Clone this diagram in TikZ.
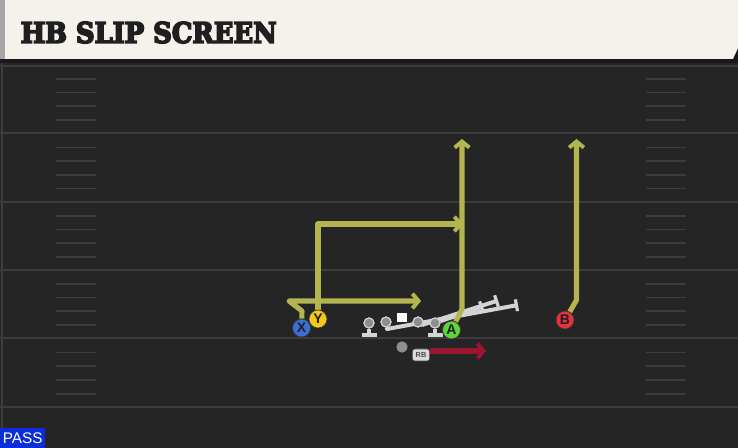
\documentclass[tikz,border=0pt]{standalone}
\usepackage{fontspec}
\usepackage{graphicx}
\usetikzlibrary{arrows.meta}
\newfontfamily\titlefont[FakeBold=6]{DejaVu Serif}
\newfontfamily\labelfont{Liberation Sans}
\definecolor{bg}{HTML}{252525}
\definecolor{yardline}{HTML}{3C3C3C}
\definecolor{cream}{HTML}{F5F2EB}
\definecolor{routecol}{HTML}{B4B450}
\definecolor{rbred}{HTML}{9A1530}
\definecolor{xblue}{HTML}{3B6FD6}
\definecolor{yyellow}{HTML}{F2C81C}
\definecolor{agreen}{HTML}{5CD43A}
\definecolor{bred}{HTML}{E5323E}
\definecolor{olgray}{HTML}{D4D4D4}
\definecolor{dotgray}{HTML}{8E8E8E}
\definecolor{passblue}{HTML}{0B2DDA}
\tikzset{
  yard/.style={draw=yardline, line width=1.5pt},
  hashmark/.style={draw=yardline, line width=1.2pt},
  player/.style={circle, draw=black!80, line width=0.5pt, inner sep=0pt, minimum size=13.5pt,
    font=\labelfont\bfseries\fontsize{10.5}{10.5}\selectfont, text=black!88},
  route/.style={draw=routecol, line width=3.8pt, line join=round, -{Straight Barb[length=4.5pt,width=11pt,line width=3pt]}},
  rbroute/.style={draw=rbred, line width=3.8pt, -{Straight Barb[length=4.5pt,width=11pt,line width=3pt]}},
  block/.style={draw=olgray, line width=3pt, line join=round, -{Bar[width=9pt,line width=2.4pt]}},
  oldot/.style={circle, fill=dotgray, draw=olgray, line width=0.8pt, inner sep=0pt, minimum size=7.5pt},
  olstem/.style={draw=olgray, line width=3pt},
  centerbox/.style={fill=white, inner sep=0pt, minimum size=7pt},
}
\begin{document}
\begin{tikzpicture}[x=0.75pt, y=-0.75pt]
\useasboundingbox (0,0) rectangle (738,448);
\fill[bg] (0,0) rectangle (738,448);
% sideline
\draw[yardline, line width=1.5pt] (2,63) -- (2,448);
% yard lines
\foreach \yy in {66,133.5,202,270,338.5,407}
  \draw[yard] (0,\yy) -- (738,\yy);
% hash marks
\foreach \yy in {79,92.5,106,120,147.5,161,175,188.5,216,229.5,243,257,284,297.5,311,325,352.5,366,380,394}{
  \draw[hashmark] (56,\yy) -- (96,\yy);
  \draw[hashmark] (646,\yy) -- (686,\yy);
}
% header
\fill[black!90] (0,0) rectangle (738,63);
\fill[cream] (0,0) -- (738,0) -- (738,48) -- (733,59) -- (0,59) -- cycle;
\fill[black!35] (0,0) rectangle (5,59);
\node[anchor=south west, inner sep=0pt, text=black!88] (title) at (20.5,43.5)
  {\resizebox{192pt}{15.75pt}{\titlefont\bfseries HB SLIP SCREEN}};
% PASS label
\node[anchor=south west, fill=passblue, text=white, inner sep=0pt, minimum width=33.75pt, minimum height=15pt,
  font=\labelfont\fontsize{11.5}{11.5}\selectfont] (pass) at (0,448) {PASS};
% offensive line
\node[oldot] (LT) at (369,323) {};
\node[oldot] (LG) at (386,322) {};
\node[centerbox] (C) at (402,317.5) {};
\node[oldot] (RG) at (418,322) {};
\node[oldot] (RT) at (435,323) {};
\node[oldot, minimum size=8.5pt, draw=none] (QB) at (402,347) {};
\coordinate (LTbase) at (369,335);
\coordinate (RTbase) at (435,335);
\draw[olstem] (LT) -- (LTbase);
\draw[olstem] (361.5,335) -- (376.5,335);
\draw[olstem] (RT) -- (RTbase);
\draw[olstem] (427.5,335) -- (442.5,335);
\coordinate (lgturn) at (387,329);
\coordinate (lgend) at (518,305);
\coordinate (rgturn) at (422,325);
\coordinate (rgend) at (498,300.5);
\coordinate (rtend) at (483,306.5);
\draw[block] (LG) -- (lgturn) -- (lgend);
\draw[block] (RG) -- (rgturn) -- (rgend);
\draw[block] (RT) -- (rtend);
\node[oldot] at (LT) {};
\node[oldot] at (LG) {};
\node[oldot] at (RG) {};
\node[oldot] at (RT) {};
% RB
\node[fill=olgray!85, draw=black!70, line width=0.4pt, rounded corners=2pt, inner sep=0pt, minimum width=13pt, minimum height=9pt,
  font=\labelfont\bfseries\fontsize{5.5}{5.5}\selectfont, text=black!70] (RB) at (421,355) {RB};
\coordinate (rbend) at (486,351);
\draw[rbroute] (RB.east |- rbend) -- (rbend);
% skill players
\coordinate (x1) at (302,311);
\coordinate (x2) at (289,301);
\coordinate (x3) at (421,301);
\coordinate (y1) at (318,224);
\coordinate (y2) at (463,224);
\coordinate (a1) at (462,309);
\coordinate (a2) at (462,139);
\coordinate (b1) at (576.5,300);
\coordinate (b2) at (576.5,139);
\node[player, fill=xblue] (X) at (301.5,328) {X};
\node[player, fill=yyellow] (Y) at (318,319) {Y};
\node[player, fill=agreen] (A) at (451.5,330) {A};
\node[player, fill=bred] (B) at (565,320) {B};
% routes
\draw[route] (X) -- (x1) -- (x2) -- (x3);
\draw[route] (Y) -- (y1) -- (y2);
\draw[route] (A) -- (a1) -- (a2);
\draw[route] (B) -- (b1) -- (b2);
% redraw players on top
\node[player, fill=xblue] at (X) {X};
\node[player, fill=yyellow] at (Y) {Y};
\node[player, fill=agreen] at (A) {A};
\node[player, fill=bred] at (B) {B};
\end{tikzpicture}
\end{document}
